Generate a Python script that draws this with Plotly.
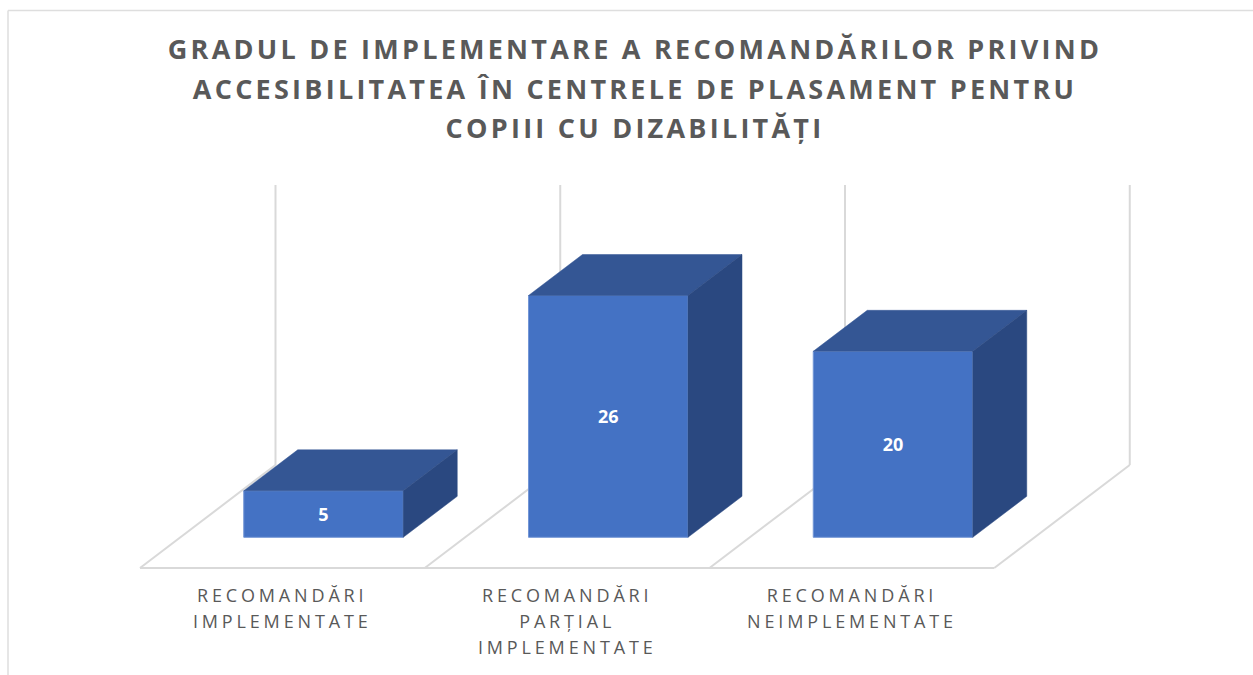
import plotly.graph_objects as go

TITLE = "GRADUL DE IMPLEMENTARE A RECOMANDĂRILOR PRIVIND<br>ACCESIBILITATEA ÎN CENTRELE DE PLASAMENT PENTRU<br>COPIII CU DIZABILITĂȚI"
categories = ["RECOMANDĂRI<br>IMPLEMENTATE", "RECOMANDĂRI<br>PARȚIAL<br>IMPLEMENTATE", "RECOMANDĂRI<br>NEIMPLEMENTATE"]
values = [5, 26, 20]

W, H = 1253, 675
PX_PER_CAT = 284.75
PX_PER_VAL = 9.3
X0_PX = 323.5
Y0_PX = 537.3

BAR_W = 159.5 / PX_PER_CAT
DEPTH_X = 54 / PX_PER_CAT
DEPTH_Y = 41 / PX_PER_VAL
FLOOR_LEFT = (140 - X0_PX) / PX_PER_CAT
FLOOR_FRONT = (537.3 - 568) / PX_PER_VAL
FLOOR_DX = 135.5 / PX_PER_CAT
FLOOR_DY = 103 / PX_PER_VAL
WALL_TOP = (537.3 - 185) / PX_PER_VAL

FRONT, TOP, SIDE = "#4472C4", "#345694", "#2A4880"
GRID = "#D9D9D9"
TEXT = "#595959"
FONT = "Open Sans"

xs = list(range(len(values)))
fig = go.Figure()

# top and right faces of each 3D column
top_x, top_y, side_x, side_y = [], [], [], []
for x, v in zip(xs, values):
    l, r = x - BAR_W / 2, x + BAR_W / 2
    top_x += [l, r, r + DEPTH_X, l + DEPTH_X, l, None]
    top_y += [v, v, v + DEPTH_Y, v + DEPTH_Y, v, None]
    side_x += [r, r + DEPTH_X, r + DEPTH_X, r, r, None]
    side_y += [0, DEPTH_Y, v + DEPTH_Y, v, 0, None]

fig.add_trace(go.Bar(
    x=xs, y=values, width=BAR_W, text=values, textposition="inside",
    insidetextanchor="middle", textangle=0,
    textfont=dict(family=FONT, size=18, color="white", weight="bold"),
    marker=dict(color=FRONT, line=dict(color="#7396D6", width=1)),
    hoverinfo="skip", showlegend=False))
fig.add_trace(go.Scatter(x=top_x, y=top_y, mode="lines", fill="toself", fillcolor=TOP,
                         line=dict(color=TOP, width=0.5), hoverinfo="skip", showlegend=False))
fig.add_trace(go.Scatter(x=side_x, y=side_y, mode="lines", fill="toself", fillcolor=SIDE,
                         line=dict(color=SIDE, width=0.5), hoverinfo="skip", showlegend=False))

# floor and back wall gridlines, under the columns
line = dict(color=GRID, width=2)
shapes = [dict(type="line", xref="x", yref="y", layer="below", line=line,
               x0=FLOOR_LEFT, x1=FLOOR_LEFT + len(values), y0=FLOOR_FRONT, y1=FLOOR_FRONT)]
for i in range(len(values) + 1):
    fx = FLOOR_LEFT + i
    bx = fx + FLOOR_DX
    by = FLOOR_FRONT + FLOOR_DY
    shapes.append(dict(type="line", xref="x", yref="y", layer="below", line=line,
                       x0=fx, x1=bx, y0=FLOOR_FRONT, y1=by))
    shapes.append(dict(type="line", xref="x", yref="y", layer="below", line=line,
                       x0=bx, x1=bx, y0=by, y1=WALL_TOP))

# outer frame of the picture (top and left only)
frame = dict(color="#DEDEDE", width=1.5)
shapes.append(dict(type="line", xref="paper", yref="paper", line=frame,
                   x0=8 / W, x1=1, y0=1 - 10.5 / H, y1=1 - 10.5 / H))
shapes.append(dict(type="line", xref="paper", yref="paper", line=frame,
                   x0=8 / W, x1=8 / W, y0=0, y1=1 - 10.5 / H))

annotations = [dict(text=c, x=FLOOR_LEFT + i + 0.5, xref="x",
                    y=(Y0_PX - 581) / PX_PER_VAL, yref="y",
                    xanchor="center", yanchor="top", showarrow=False, align="center",
                    font=dict(family=FONT, size=18, color=TEXT))
               for i, c in enumerate(categories)]

fig.update_layout(
    width=W, height=H, margin=dict(l=0, r=0, t=0, b=0),
    paper_bgcolor="white", plot_bgcolor="white", showlegend=False,
    title=dict(text=TITLE, x=635 / W, xanchor="center", y=1 - 59 / H, yanchor="top",
               font=dict(family=FONT, size=27, color=TEXT, weight="bold")),
    xaxis=dict(visible=False, range=[-X0_PX / PX_PER_CAT, (W - X0_PX) / PX_PER_CAT], fixedrange=True),
    yaxis=dict(visible=False, range=[(Y0_PX - H) / PX_PER_VAL, Y0_PX / PX_PER_VAL], fixedrange=True),
    shapes=shapes, annotations=annotations)

post = """
var s = document.createElement('style');
s.textContent = 'body{margin:0;overflow:hidden} .gtitle{letter-spacing:3.25px} .annotation-text{letter-spacing:3.85px}';
document.head.appendChild(s);
function pitch(sel, p){document.querySelectorAll(sel).forEach(function(t){
  t.querySelectorAll('tspan.line').forEach(function(l,i){l.setAttribute('dy', (i*p)+'px');});});}
pitch('.gtitle', 39.5);
pitch('.annotation-text', 26);
"""
fig.write_html("out.html", post_script=post, config=dict(displayModeBar=False))
